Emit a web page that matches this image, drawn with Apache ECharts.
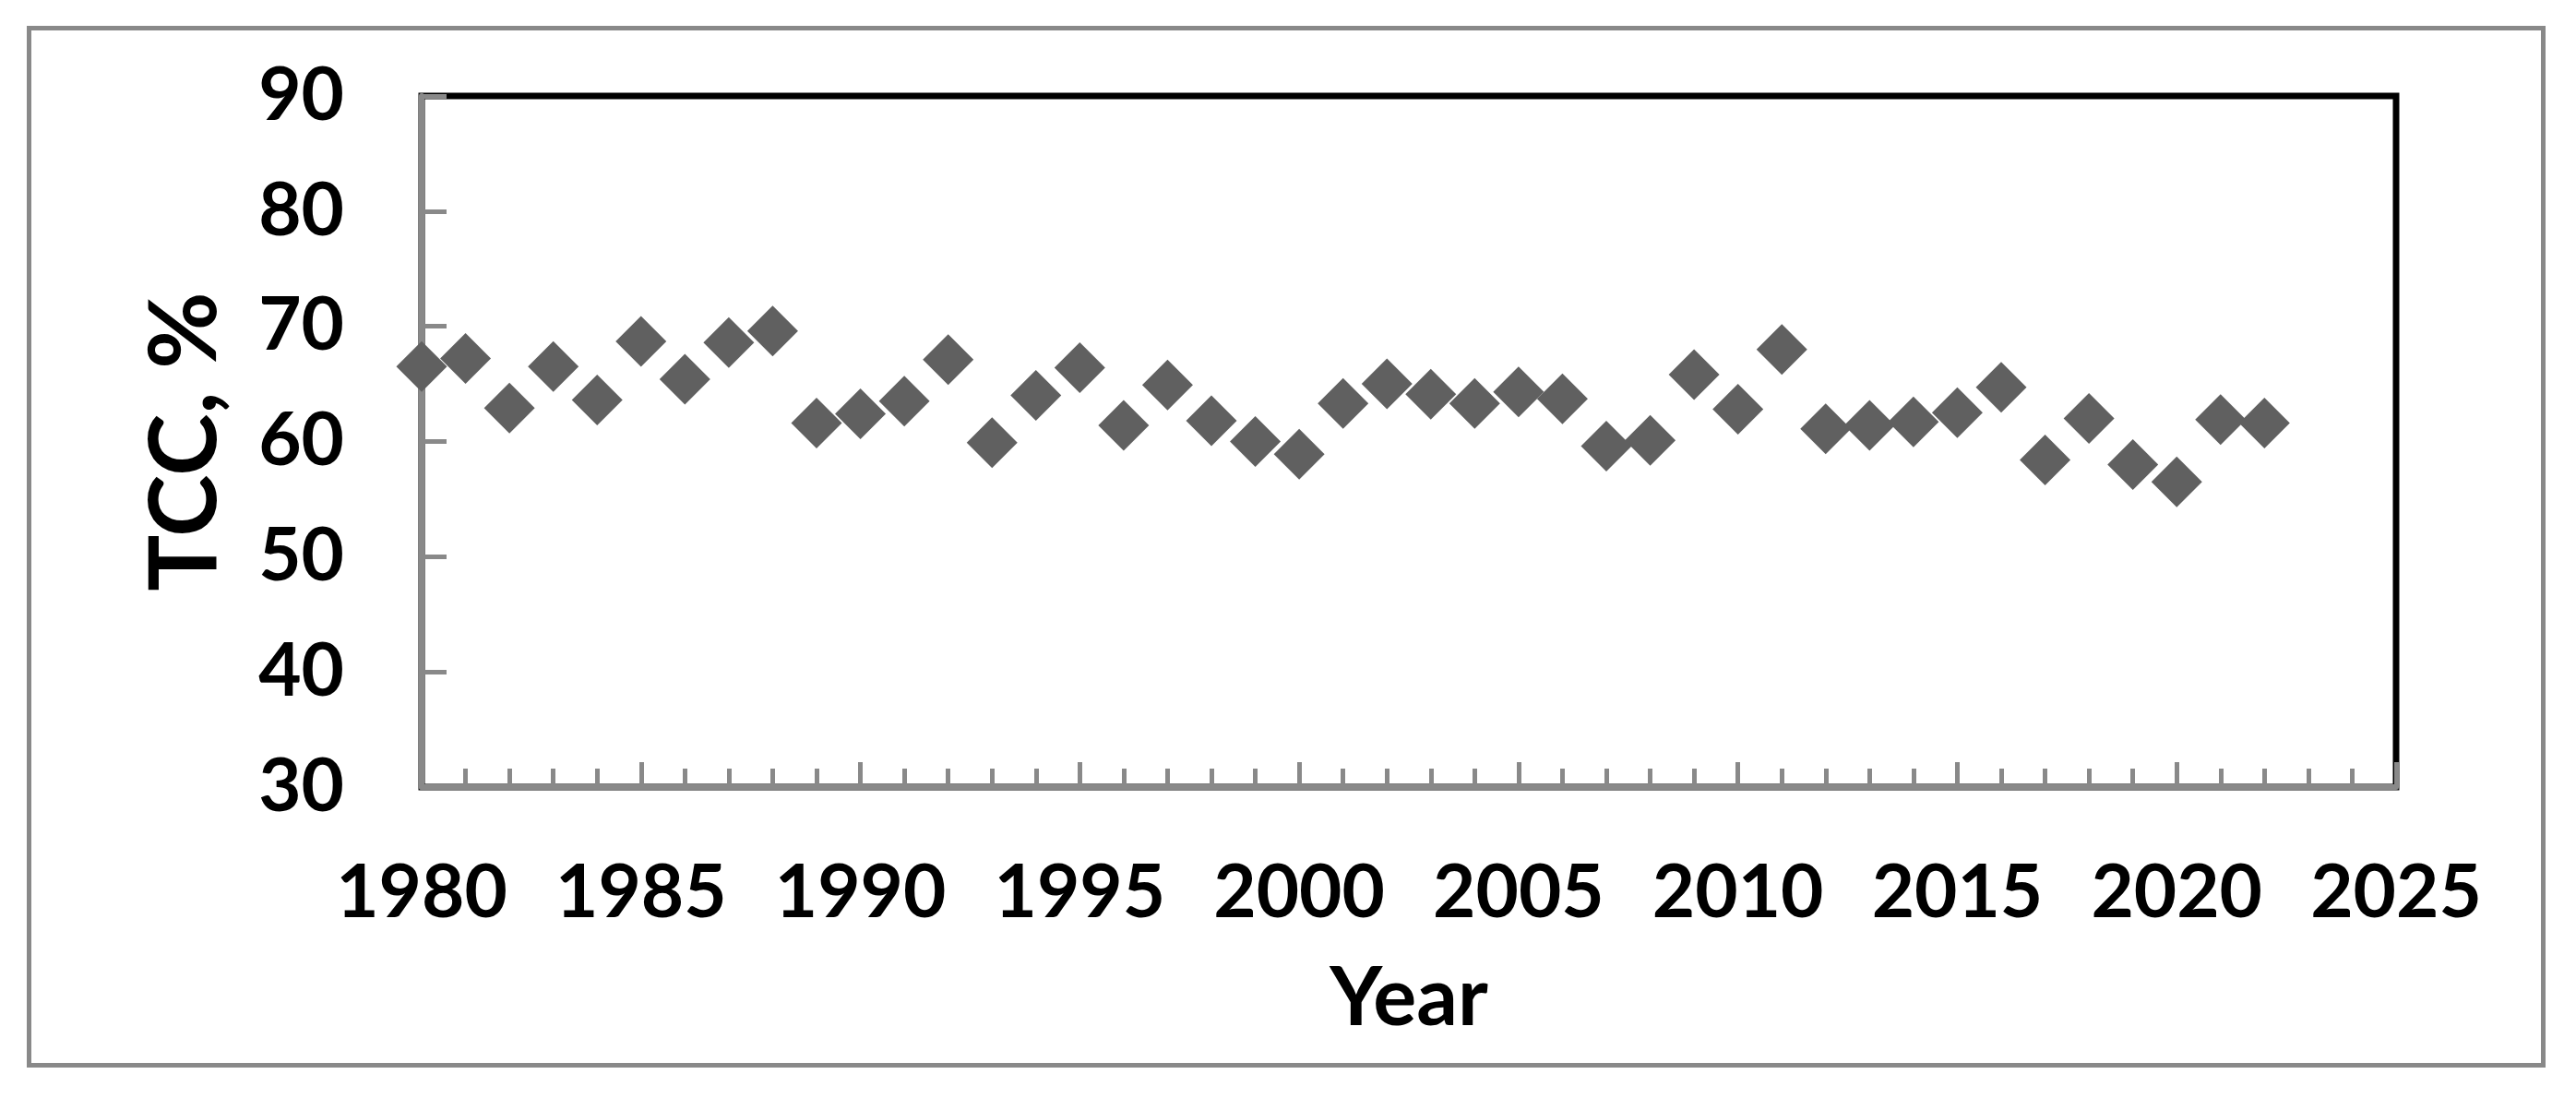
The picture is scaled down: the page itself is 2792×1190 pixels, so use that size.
<!DOCTYPE html>
<html>
<head>
<meta charset="utf-8">
<script src="https://cdn.jsdelivr.net/npm/echarts@6/dist/echarts.min.js"></script>
<style>
html,body{margin:0;padding:0;background:#fff;}
#chart{width:2792px;height:1190px;}
</style>
</head>
<body>
<div id="chart"></div>
<script>
const years = [1980,1981,1982,1983,1984,1985,1986,1987,1988,1989,1990,
  1991,1992,1993,1994,1995,1996,1997,1998,1999,2000,2001,
  2002,2003,2004,2005,2006,2007,2008,2009,2010,2011,2012,
  2013,2014,2015,2016,2017,2018,2019,2020,2021,2022];
const tcc = [66.5,67.2,62.9,66.5,63.6,68.7,65.4,68.6,69.6,61.6,62.4,
  63.5,67.1,59.9,64.0,66.4,61.4,64.9,61.8,60.0,58.9,63.3,
  65.0,64.1,63.3,64.3,63.7,59.6,60.1,65.8,62.8,68.0,61.1,
  61.4,61.7,62.5,64.7,58.4,62.0,58.0,56.5,61.9,61.6];
const xTicks = [1980,1985,1990,1995,2000,2005,2010,2015,2020,2025];
const yTicks = [30,40,50,60,70,80,90];
const xName = 'Year';
const yName = 'TCC, %';

const GRAY = '#898989';
const FONT = 'Lato';

const chart = echarts.init(document.getElementById('chart'), null, {renderer:'canvas'});
chart.setOption({
  backgroundColor:'#ffffff',
  animation:false,
  graphic:[{
    type:'rect', z:-1, silent:true,
    shape:{x:31.5, y:30.5, width:2725, height:1124},
    style:{fill:'none', stroke:GRAY, lineWidth:5}
  }],
  grid:{
    left:457, right:195, top:104, bottom:337,
    show:true, borderColor:'#000', borderWidth:7, backgroundColor:'transparent'
  },
  xAxis:{
    type:'value',
    min:xTicks[0], max:xTicks[xTicks.length-1], interval:xTicks[1]-xTicks[0],
    name:xName, nameLocation:'middle', nameGap:186,
    nameTextStyle:{fontFamily:FONT, fontWeight:'bold', fontSize:88, color:'#000'},
    axisLine:{show:true, onZero:false, lineStyle:{color:GRAY, width:6}},
    axisTick:{show:true, inside:true, length:27, lineStyle:{color:GRAY, width:5}},
    minorTick:{show:true, splitNumber:5, length:20, lineStyle:{color:GRAY, width:5}},
    axisLabel:{margin:75, fontFamily:FONT, fontWeight:'bold', fontSize:80, color:'#000',
      formatter:v => String(v)},
    splitLine:{show:false},
    z:3
  },
  yAxis:{
    type:'value',
    min:yTicks[0], max:yTicks[yTicks.length-1], interval:yTicks[1]-yTicks[0],
    name:yName, nameLocation:'middle', nameGap:205, nameRotate:90,
    nameTextStyle:{fontFamily:FONT, fontWeight:'bold', fontSize:102, color:'#000'},
    axisLine:{show:true, onZero:false, lineStyle:{color:GRAY, width:6}},
    axisTick:{show:true, inside:true, length:27, lineStyle:{color:GRAY, width:5}},
    axisLabel:{margin:84, fontFamily:FONT, fontWeight:'bold', fontSize:80, color:'#000',
      formatter:v => String(v)},
    splitLine:{show:false},
    z:3
  },
  series:[{
    type:'scatter',
    data:years.map((y,i)=>[y,tcc[i]]),
    symbol:'diamond',
    symbolSize:[55,55],
    clip:false,
    z:5,
    itemStyle:{color:'#606060', opacity:1}
  }]
});
</script>
</body>
</html>
